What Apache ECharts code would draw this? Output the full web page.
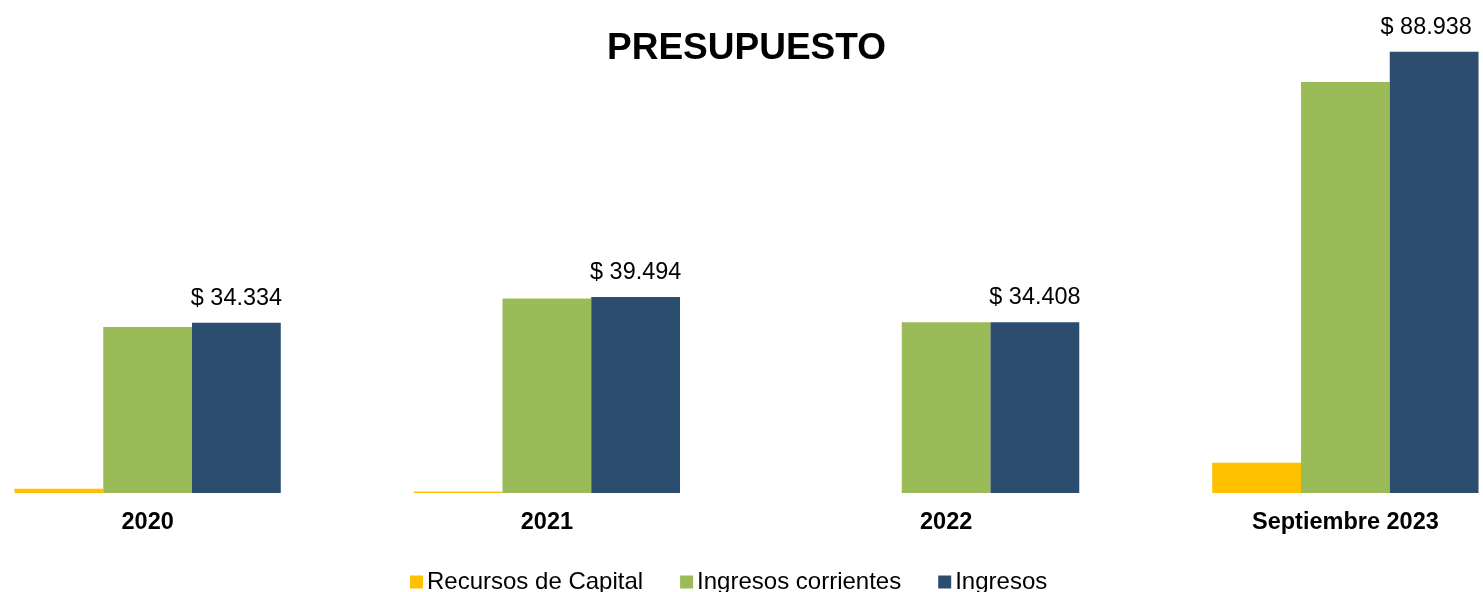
<!DOCTYPE html>
<html>
<head>
<meta charset="utf-8">
<script src="https://cdn.jsdelivr.net/npm/echarts@6/dist/echarts.min.js"></script>
<style>
html,body{margin:0;padding:0;background:#fff;overflow:hidden;width:1483px;height:592px;}
#chart{position:absolute;left:-52px;top:0;width:1597px;height:592px;}
</style>
</head>
<body>
<div id="chart"></div>
<script>
const categories = ['2020', '2021', '2022', 'Septiembre 2023'];
const recursosCapital = [860, 300, 0, 6100];
const ingresosCorrientes = [33474, 39194, 34408, 82838];
const ingresos = [34334, 39494, 34408, 88938];

const FONT = '"Liberation Sans", Arial, sans-serif';
function fmt(v) {
  return '$ ' + String(Math.round(v)).replace(/\B(?=(\d{3})+(?!\d))/g, '.');
}

const chart = echarts.init(document.getElementById('chart'));
chart.setOption({
  animation: false,
  backgroundColor: '#ffffff',
  title: {
    text: 'PRESUPUESTO',
    left: 'center',
    top: 30,
    padding: 0,
    textStyle: { fontFamily: FONT, fontSize: 37, fontWeight: 'bold', color: '#000' }
  },
  legend: {
    left: 462,
    top: 570,
    padding: 0,
    itemWidth: 13,
    itemHeight: 13,
    itemGap: 37,
    icon: 'rect',
    textStyle: { fontFamily: FONT, fontSize: 24, color: '#000', padding: [0, 0, 0, -1] },
    data: ['Recursos de Capital', 'Ingresos corrientes', 'Ingresos']
  },
  grid: { left: 0, right: 0, top: 46.6, bottom: 99, containLabel: false },
  xAxis: {
    type: 'category',
    data: categories,
    axisLine: { show: false },
    axisTick: { show: false },
    axisLabel: { fontFamily: FONT, fontSize: 23.5, fontWeight: 'bold', color: '#000', margin: 17.5, interval: 0 }
  },
  yAxis: {
    type: 'value',
    min: 0,
    max: 90000,
    show: false,
    splitLine: { show: false }
  },
  series: [
    {
      name: 'Recursos de Capital',
      type: 'bar',
      data: recursosCapital,
      barGap: '0%',
      barCategoryGap: '33.3%',
      itemStyle: { color: '#FFC000' }
    },
    {
      name: 'Ingresos corrientes',
      type: 'bar',
      data: ingresosCorrientes,
      barGap: '0%',
      barCategoryGap: '33.3%',
      itemStyle: { color: '#9BBB59' }
    },
    {
      name: 'Ingresos',
      type: 'bar',
      data: ingresos.map((v, i) => i === ingresos.length - 1 ? { value: v, label: { offset: [-8, 0] } } : v),
      barGap: '0%',
      barCategoryGap: '33.3%',
      itemStyle: { color: '#2C4D6E' },
      label: {
        show: true,
        position: 'top',
        distance: 13,
        fontFamily: FONT,
        fontSize: 23.4,
        color: '#000',
        formatter: p => fmt(p.value)
      }
    }
  ]
});
</script>
</body>
</html>
